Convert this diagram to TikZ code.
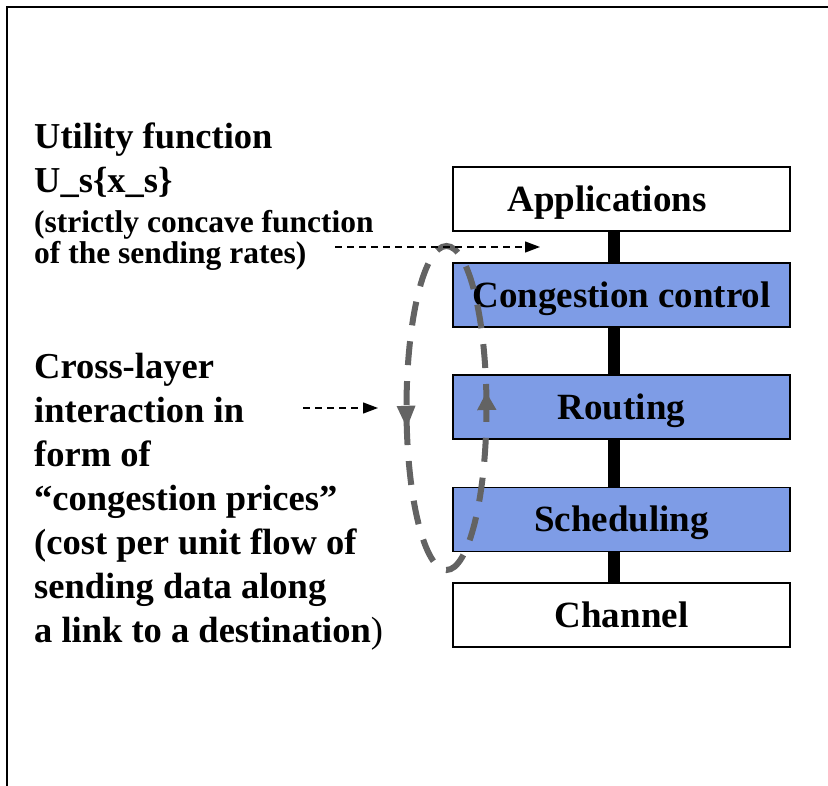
\documentclass[tikz,border=0pt]{standalone}
\usepackage{fontspec}
\setmainfont{Liberation Serif}
\usetikzlibrary{arrows.meta,decorations.markings}
\definecolor{layerblue}{RGB}{126,156,230}
\definecolor{loopgray}{RGB}{99,99,99}

\begin{document}
\begin{tikzpicture}[x=1pt,y=1pt]
\tikzstyle{every node}+=[inner sep=0pt]
\tikzstyle{layerbox}=[draw=black, line width=1.2pt, fill=white, minimum width=337pt, minimum height=64pt, text height=24.5pt, text depth=0pt, font=\fontsize{37}{44}\selectfont\bfseries]
\tikzstyle{bluebox}=[layerbox, fill=layerblue]
\tikzstyle{bignote}=[anchor=base west, align=left, font=\fontsize{36.5}{44}\selectfont\bfseries]
\tikzstyle{smallnote}=[anchor=base west, align=left, font=\fontsize{31.5}{31.5}\selectfont\bfseries]
\tikzstyle{pointer}=[black, line width=1.3pt, dash pattern=on 7pt off 5pt, -{Triangle[length=15pt,width=11pt]}]
\useasboundingbox (0,0) rectangle (828,-786);
\draw [line width=2.3pt] (828,-7) -- (7,-7) -- (7,-786);
\node (apps) [layerbox] at (621.5,-199) {Applications\hspace*{29pt}};
\node (cong) [bluebox] at (621.5,-295) {Congestion control};
\node (rout) [bluebox] at (621.5,-407) {Routing};
\node (sched) [bluebox] at (621.5,-519.5) {Scheduling};
\node (chan) [layerbox] at (621.5,-615) {Channel};
\foreach \a/\b in {apps/cong,cong/rout,rout/sched,sched/chan}
  \draw [line width=12pt] ([xshift=-7.5pt]\a.south) -- ([xshift=-7.5pt]\b.north);
\node (util) [bignote] at (34,-193) {Utility function\\U\_s\{x\_s\}};
\node (rates) [smallnote] at (34,-264) {(strictly concave function\\of the sending rates)};
\node (cross) [bignote] at (34,-642) {Cross-layer\\interaction in\\form of\\``congestion prices''\\(cost per unit flow of\\sending data along\\a link to a destination{\mdseries)}};
\coordinate (loop) at (446.5,-408);
\draw [loopgray, line width=6pt, dash pattern=on 24pt off 16pt, postaction={decorate},
  decoration={markings,
    mark=at position 0.023 with {\arrow{Triangle[length=18pt,width=18pt]}},
    mark=at position 0.53 with {\arrow{Triangle[length=23pt,width=17pt]}}}]
  (loop) ellipse [x radius=40, y radius=162];
\coordinate (utiltail) at (335,-247);
\coordinate (utiltip) at (540,-247);
\coordinate (crosstail) at (303,-408);
\coordinate (crosstip) at (378,-408);
\draw [pointer] (utiltail) -- (utiltip);
\draw [pointer] (crosstail) -- (crosstip);
\end{tikzpicture}
\end{document}
